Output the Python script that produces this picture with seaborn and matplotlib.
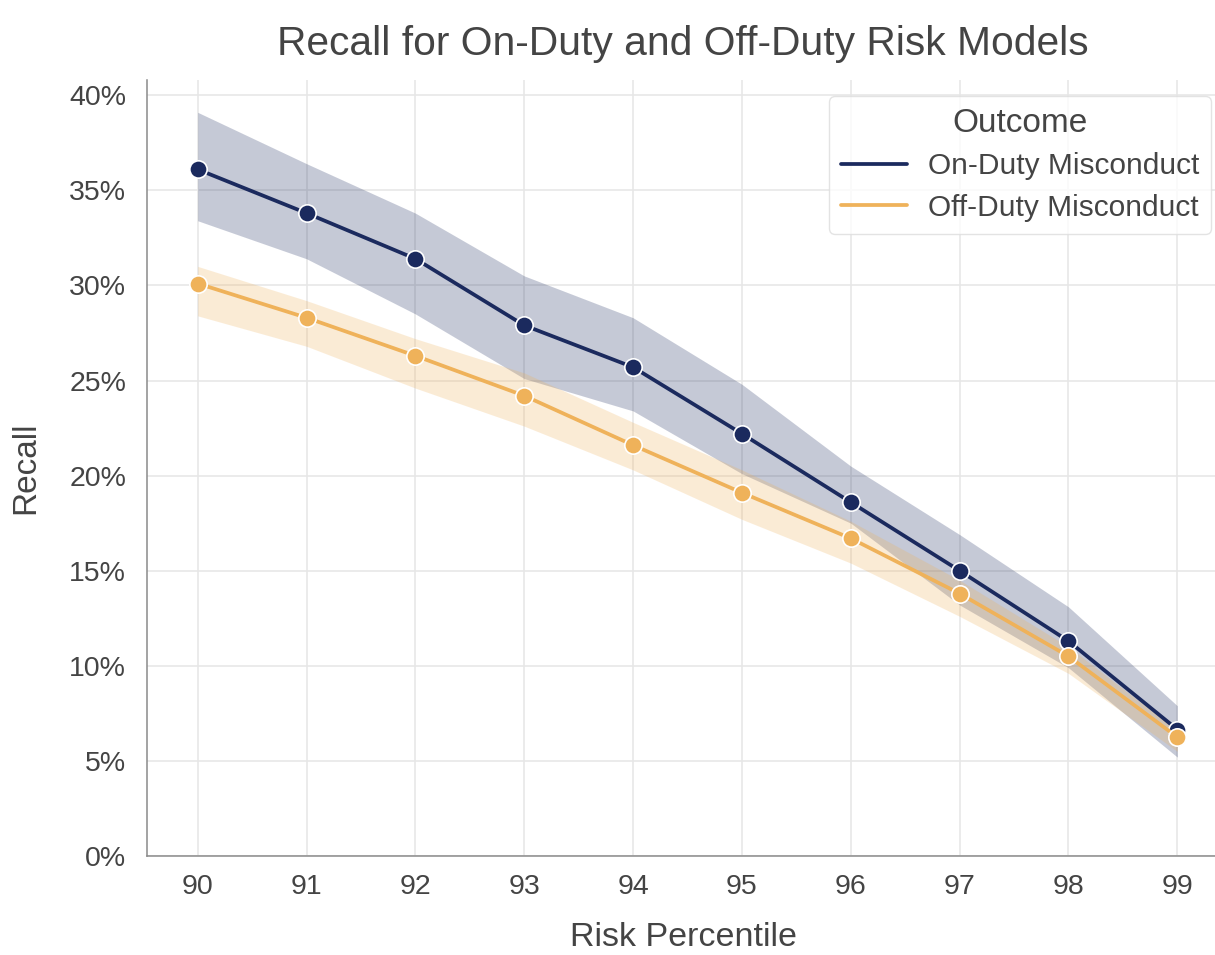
import numpy as np
import pandas as pd
import matplotlib
matplotlib.use("Agg")
import matplotlib.pyplot as plt
from matplotlib.lines import Line2D
from matplotlib.ticker import PercentFormatter
import seaborn as sns

percentiles = [90, 91, 92, 93, 94, 95, 96, 97, 98, 99]
on_duty_recall = [0.361, 0.338, 0.314, 0.279, 0.257, 0.222, 0.186, 0.150, 0.113, 0.0665]
on_duty_low = [0.334, 0.314, 0.285, 0.251, 0.234, 0.201, 0.175, 0.132, 0.099, 0.052]
on_duty_high = [0.391, 0.364, 0.338, 0.305, 0.283, 0.248, 0.205, 0.169, 0.131, 0.079]
off_duty_recall = [0.301, 0.283, 0.263, 0.242, 0.216, 0.191, 0.167, 0.138, 0.105, 0.0625]
off_duty_low = [0.284, 0.268, 0.246, 0.226, 0.203, 0.177, 0.154, 0.126, 0.096, 0.055]
off_duty_high = [0.310, 0.292, 0.272, 0.254, 0.228, 0.203, 0.176, 0.145, 0.110, 0.066]
outcomes = ["On-Duty Misconduct", "Off-Duty Misconduct"]
colors = ["#1b2a5e", "#efb25a"]

sns.set_theme(style="whitegrid")
plt.rcParams["font.family"] = ["Liberation Sans", "DejaVu Sans"]
TXT = "#444444"
plt.rcParams.update({
    "text.color": TXT, "axes.labelcolor": TXT,
    "xtick.color": TXT, "ytick.color": TXT,
    "grid.color": "#e6e6e6", "grid.linewidth": 1.1,
    "axes.edgecolor": "#8a8a8a", "axes.linewidth": 1.1,
})

df = pd.DataFrame({
    "Risk Percentile": percentiles * 2,
    "Recall": on_duty_recall + off_duty_recall,
    "Outcome": [outcomes[0]] * len(percentiles) + [outcomes[1]] * len(percentiles),
})

fig = plt.figure(figsize=(12.15, 9.55), dpi=100)
ax = fig.add_axes([147 / 1215, 1 - 856 / 955, (1219 - 147) / 1215, (856 - 80) / 955])

bands = [(on_duty_low, on_duty_high), (off_duty_low, off_duty_high)]
for (lo, hi), c in zip(bands, colors):
    ax.fill_between(percentiles, lo, hi, color=c, alpha=0.25, linewidth=0, zorder=2)

sns.lineplot(data=df, x="Risk Percentile", y="Recall", hue="Outcome",
             hue_order=outcomes, palette=colors, marker="o", markersize=12.5,
             markeredgecolor="white", markeredgewidth=1.2, linewidth=2.7,
             legend=False, ax=ax, zorder=3)

ax.set_xlim(89.534, 99.383)
ax.set_ylim(0, 0.408)
ax.set_xticks(percentiles)
ax.set_yticks(np.arange(0, 0.41, 0.05))
ax.yaxis.set_major_formatter(PercentFormatter(1.0, decimals=0))
ax.tick_params(axis="both", labelsize=20.5, length=0)
ax.tick_params(axis="y", pad=15)
ax.tick_params(axis="x", pad=13)
ax.set_xlabel("Risk Percentile", fontsize=24.5, labelpad=16)
ax.set_ylabel("Recall", fontsize=24, labelpad=20)
ax.set_title("Recall for On-Duty and Off-Duty Risk Models", fontsize=29.3, pad=18)
sns.despine(ax=ax)

handles = [Line2D([], [], color=c, linewidth=2.7) for c in colors]
leg = ax.legend(handles, outcomes, title="Outcome", fontsize=21.5, title_fontsize=24,
                loc="upper right", bbox_to_anchor=(1211 / 1215, 1 - 96 / 955),
                bbox_transform=fig.transFigure, borderaxespad=0,
                handlelength=2.2, handletextpad=0.7, labelspacing=0.45,
                borderpad=0.4, frameon=True, fancybox=True)
leg.get_frame().set_edgecolor("#dddddd")
leg.get_frame().set_facecolor("white")
leg.get_frame().set_alpha(0.8)

fig.savefig("out.png", dpi=100)
